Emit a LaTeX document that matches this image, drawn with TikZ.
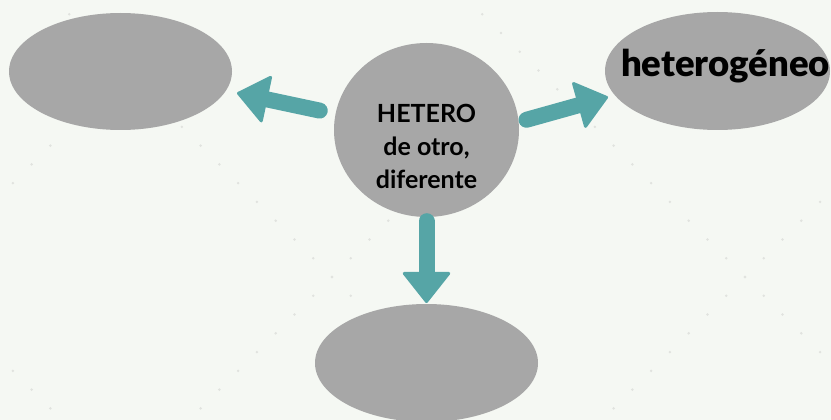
\documentclass[tikz,border=0pt]{standalone}
\usepackage{fontspec}
\setmainfont{Lato}
\newfontfamily\latoblack{Lato Black}
\usetikzlibrary{shapes.geometric,arrows.meta}

\definecolor{bgpaper}{HTML}{F5F8F3}
\definecolor{dotgray}{HTML}{E1E3DF}
\definecolor{blobgray}{HTML}{A7A7A7}
\definecolor{arrteal}{HTML}{56A5A6}

\tikzset{
  blob/.style={ellipse, fill=blobgray, inner sep=0pt},
  arr/.style={draw=arrteal, line width=16pt, line cap=round,
    -{Triangle[length=32pt, width=50pt, round, line width=3pt, fill=arrteal]}},
  bigword/.style={font=\fontsize{36.5}{40}\selectfont\latoblack, anchor=base},
  hubtext/.style={font=\fontsize{25}{33}\selectfont\bfseries, align=center}
}

\begin{document}
\begin{tikzpicture}[x=1pt, y=-1pt]
  % paper and dotted pattern
  \fill[bgpaper] (0,0) rectangle (831,420);
  \useasboundingbox (0,0) rectangle (831,420);
  \clip (0,0) rectangle (831,420);
  \foreach \m in {-1,0,1}
    \foreach \k in {-14,...,7} {
      \fill[dotgray] (332+413*\m+18.77*\k, 277+18.77*\k) circle (1.4);
      \fill[dotgray] (332+413*\m+18.77*\k, 277-18.77*\k) circle (1.4);
    }

  % the ideas
  \node[blob, minimum width=223pt, minimum height=117pt] (otro) at (120.5,71.5) {};
  \node[blob, minimum width=225pt, minimum height=118pt] (hetero) at (717.5,71) {};
  \node[blob, minimum width=223pt, minimum height=118pt] (abajo) at (426.5,363) {};
  \node[blob, minimum width=185pt, minimum height=174pt] (hub) at (426.5,130) {};
  \node[hubtext] (raiz) at (426.5,146) {HETERO\\de otro,\\diferente};
  \node[bigword] (palabra) at (725.5,77) {heterogéneo};

  % arrows
  \coordinate (tipotro) at (237,93);
  \coordinate (tiphetero) at (608,97);
  \coordinate (tipabajo) at (426.5,303);
  \draw[arr, shorten <=16pt] (hub.170) -- (tipotro);
  \draw[arr, shorten <=8pt] (hub.5) -- (tiphetero);
  \draw[arr, shorten <=4pt] (hub.270) -- (tipabajo);
\end{tikzpicture}
\end{document}
